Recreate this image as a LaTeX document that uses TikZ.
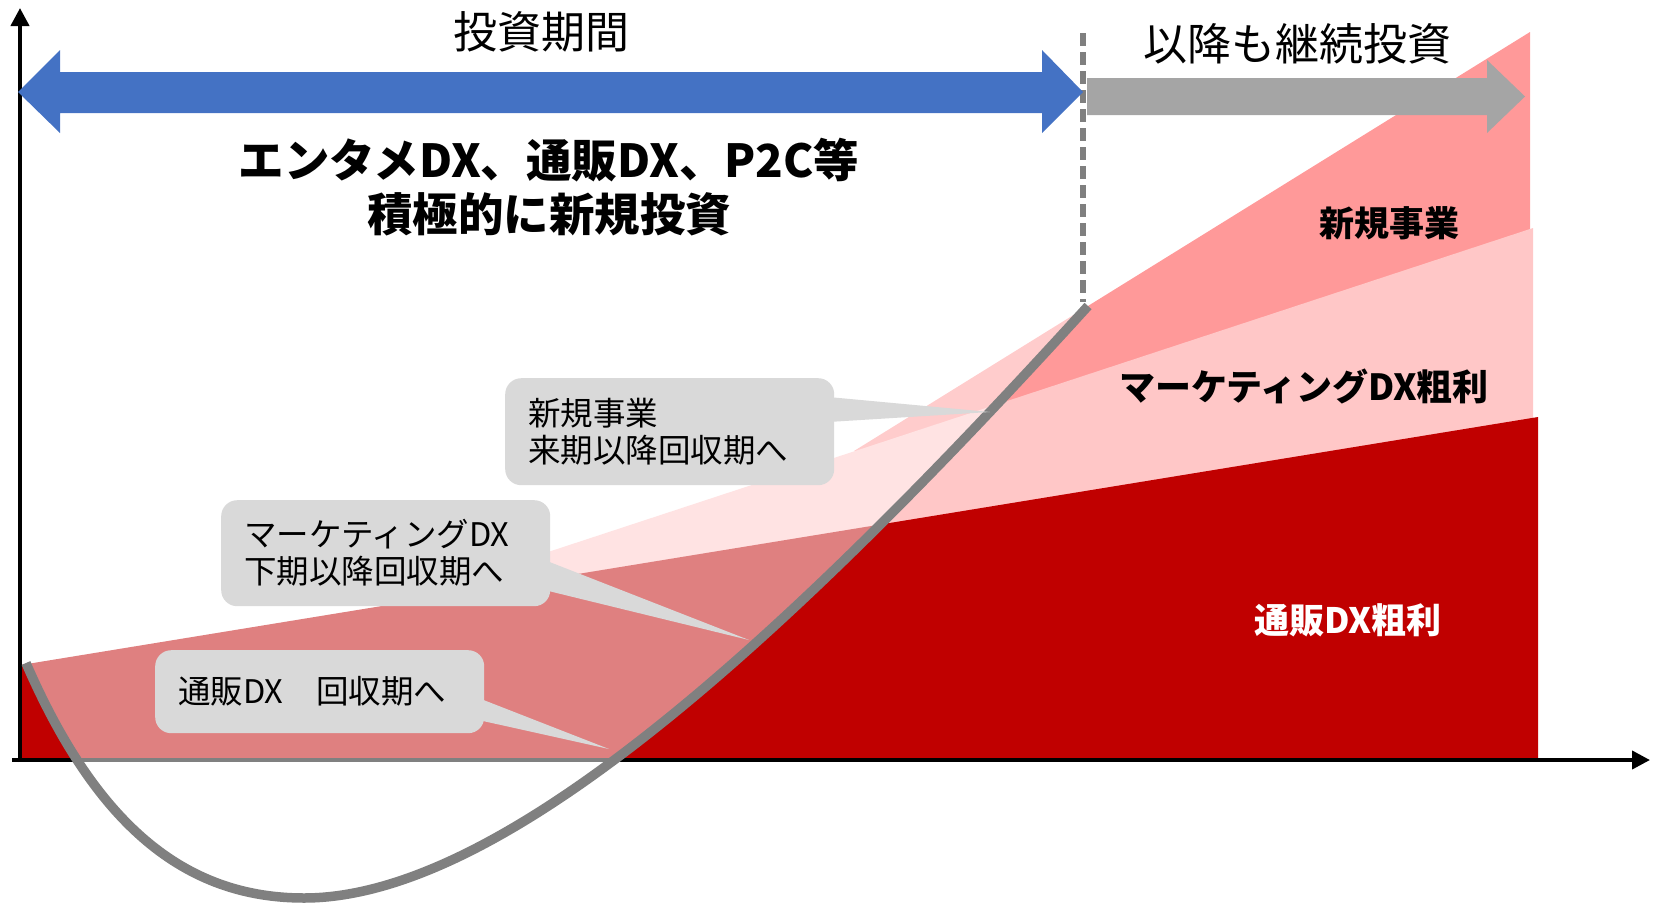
\documentclass[tikz,border=0pt]{standalone}
\usepackage{fontspec}
\setmainfont{Noto Sans CJK JP}
\usetikzlibrary{arrows.meta,calc}
\definecolor{bluearrow}{HTML}{4472C4}
\definecolor{grayarrow}{HTML}{A5A5A5}
\definecolor{curvegray}{HTML}{808080}
\definecolor{dashgray}{HTML}{7F7F7F}
\definecolor{calloutgray}{HTML}{D9D9D9}
\definecolor{newbiz}{HTML}{FF9999}
\definecolor{mktdx}{HTML}{FFC7C7}
\definecolor{ecdx}{HTML}{C00000}
\tikzset{
  axisline/.style={line width=4pt, black, -{Triangle[length=18pt,width=18pt]}},
  callout/.style={fill=calloutgray, rounded corners=16pt, align=left, anchor=north west,
    text width=283pt, inner xsep=23pt, inner ysep=0pt, minimum width=329pt,
    font=\fontsize{32.5}{37}\selectfont},
  pointer/.style={fill=calloutgray},
  bigtext/.style={font=\fontsize{44}{54}\selectfont, inner sep=0pt},
  boldtitle/.style={font=\fontsize{45.5}{54}\selectfont\bfseries, align=center, inner sep=0pt},
  arealabel/.style={font=\fontsize{35}{40}\selectfont\bfseries, inner sep=0pt},
}
\begin{document}
\begin{tikzpicture}[x=1pt,y=-1pt]
\useasboundingbox (0,0) rectangle (1656,902);

% key points
\coordinate (o) at (21,665);
\coordinate (an) at (854,451);
\coordinate (am) at (387,605);
\coordinate (cs) at (26,663);
\coordinate (cb) at (304,898);
\coordinate (ce) at (1088,306);

% stacked areas
\fill[newbiz] (an) -- (1530,32) -- (1530,420) -- cycle;
\fill[mktdx] (am) -- (1533,228) -- (1533,420) -- cycle;
\fill[ecdx] (o) -- (1538,417) -- (1538,758) -- (21,758) -- cycle;

% axes
\draw[axisline] (20,762) -- (20,8);
\draw[axisline] (12,760) -- (1650,760);

% washed region inside the curve
\fill[white, opacity=0.5] (cs) .. controls (96,824) and (184,898) .. (cb)
   .. controls (504,898) and (788,636) .. (ce) -- cycle;

% payback curve
\draw[curvegray, line width=9.5pt] (cs) .. controls (96,824) and (184,898) .. (cb)
   .. controls (504,898) and (788,636) .. (ce);

% dashed divider
\draw[dashgray, line width=5.5pt, dash pattern=on 13pt off 6pt] (1083,33) -- (1083,302);

% blue double arrow
\fill[bluearrow] (18,92) -- (60,50) -- (60,72) -- (1042,72) -- (1042,50) -- (1083,92)
   -- (1042,133) -- (1042,113) -- (60,113) -- (60,133) -- cycle;
% gray arrow
\fill[grayarrow] (1087,78) -- (1487,78) -- (1487,60) -- (1525,96.5) -- (1487,133)
   -- (1487,115) -- (1087,115) -- cycle;

% callouts
\coordinate (tip1) at (990,412);
\coordinate (tip2) at (749,640);
\coordinate (tip3) at (609,749);
\node[callout, minimum height=107pt] (b1) at (505,378) {新規事業\\来期以降回収期へ};
\node[callout, minimum height=106pt] (b2) at (221,500) {マーケティングDX\\下期以降回収期へ};
\node[callout, minimum height=83pt] (b3) at (155,650) {通販DX　回収期へ};
\fill[pointer] ($(b1.north east)+(-6,19)$) -- (tip1) -- ($(b1.north east)+(-6,44)$) -- cycle;
\fill[pointer] ($(b2.north east)+(-6,60)$) -- (tip2) -- ($(b2.north east)+(-6,90)$) -- cycle;
\fill[pointer] ($(b3.north east)+(-6,48)$) -- (tip3) -- ($(b3.north east)+(-6,70)$) -- cycle;

% titles
\node[bigtext] (tinv) at (541,32) {投資期間};
\node[bigtext] (tcont) at (1297,44) {以降も継続投資};
\node[boldtitle] (tmain) at (549,187) {エンタメDX、通販DX、P2C等\\積極的に新規投資};

% area labels
\node[arealabel] (lnew) at (1389,223) {新規事業};
\node[arealabel, font=\fontsize{36}{40}\selectfont\bfseries] (lmkt) at (1304,386) {マーケティングDX粗利};
\node[arealabel, white] (lec) at (1348,620) {通販DX粗利};
\end{tikzpicture}
\end{document}
